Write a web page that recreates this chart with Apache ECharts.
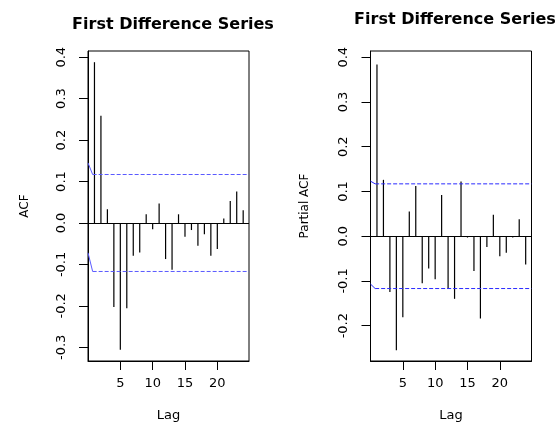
<!DOCTYPE html>
<html>
<head>
<meta charset="utf-8">
<script src="https://cdn.jsdelivr.net/npm/echarts@6/dist/echarts.min.js"></script>
<style>
  html, body { margin: 0; padding: 0; background: #fff; }
  #main { width: 555px; height: 427px; }
</style>
</head>
<body>
<div id="main"></div>
<script>
// 数据
var lags = [1, 2, 3, 4, 5, 6, 7, 8, 9, 10, 11, 12, 13, 14, 15, 16, 17, 18, 19, 20, 21, 22, 23, 24];
var acfValues = [0.388, 0.259, 0.033, -0.203, -0.306, -0.206, -0.079, -0.071, 0.021, -0.015, 0.047, -0.087,
                 -0.113, 0.021, -0.033, -0.017, -0.055, -0.027, -0.079, -0.063, 0.011, 0.053, 0.076, 0.031];
var pacfValues = [0.384, 0.126, -0.125, -0.255, -0.181, 0.055, 0.112, -0.105, -0.072, -0.096, 0.092, -0.118,
                  -0.140, 0.122, -0.003, -0.078, -0.184, -0.024, 0.048, -0.045, -0.037, -0.003, 0.038, -0.063];
var ciBound = 0.117;
var acfCiStart = [0.145, -0.072];     // 置信线左端斜线起点
var pacfCiStart = [0.123, -0.107];
var ciBendLag = 0.72;
var lagRange = [0, 24.9];
var acfRange = [-0.333, 0.415];
var pacfRange = [-0.279, 0.414];
var xTicks = [5, 10, 15, 20];
var acfTicks = [-0.3, -0.2, -0.1, 0, 0.1, 0.2, 0.3, 0.4];
var pacfTicks = [-0.2, -0.1, 0, 0.1, 0.2, 0.3, 0.4];

var FONT = 'DejaVu Sans';

function pairs(xs, ys) {
    return xs.map(function (x, i) { return [x, ys[i]]; });
}

function xAxisFor(idx) {
    return {
        gridIndex: idx,
        type: 'value',
        min: lagRange[0],
        max: lagRange[1],
        name: 'Lag',
        nameLocation: 'middle',
        nameGap: 48,
        nameTextStyle: { fontFamily: FONT, fontSize: 13, color: '#000' },
        axisLine: { show: true, onZero: false, lineStyle: { color: '#000', width: 1 } },
        axisTick: { show: true, customValues: xTicks, length: 9, lineStyle: { color: '#000' } },
        axisLabel: { customValues: xTicks, margin: 16, fontFamily: FONT, fontSize: 13, color: '#000' },
        splitLine: { show: false }
    };
}

function yAxisFor(idx, range, ticks, name, gap) {
    return {
        gridIndex: idx,
        type: 'value',
        min: range[0],
        max: range[1],
        name: name,
        nameLocation: 'middle',
        nameGap: gap,
        nameRotate: 90,
        nameTextStyle: { fontFamily: FONT, fontSize: 12, color: '#000' },
        axisLine: { show: true, lineStyle: { color: '#000', width: 1 } },
        axisTick: { show: true, customValues: ticks, length: 9, lineStyle: { color: '#000' } },
        axisLabel: {
            customValues: ticks,
            rotate: 90,
            margin: 20,
            fontFamily: FONT,
            fontSize: 13,
            color: '#000',
            formatter: function (v) { return v.toFixed(1); }
        },
        splitLine: { show: false }
    };
}

function seriesFor(idx, values, ciStart, color) {
    var base = { xAxisIndex: idx, yAxisIndex: idx, silent: true };
    var list = [];
    list.push(Object.assign({}, base, {
        type: 'bar',
        barWidth: 1.2,
        data: pairs(lags, values),
        itemStyle: { color: '#000' },
        markLine: {
            silent: true,
            symbol: 'none',
            label: { show: false },
            lineStyle: { color: '#000', width: 1, type: 'solid' },
            data: [{ yAxis: 0 }]
        }
    }));
    [ciBound, -ciBound].forEach(function (b, k) {
        // 斜线段
        list.push(Object.assign({}, base, {
            type: 'line',
            symbol: 'none',
            data: [[lagRange[0], ciStart[k]], [ciBendLag, b]],
            lineStyle: { color: color, width: 1, type: 'solid' }
        }));
        // 虚线
        list.push(Object.assign({}, base, {
            type: 'line',
            symbol: 'none',
            data: [[ciBendLag, b], [lagRange[1], b]],
            lineStyle: { color: color, width: 1, type: [4, 2] }
        }));
    });
    return list;
}

var myChart = echarts.init(document.getElementById('main'));
var option = {
    animation: false,
    backgroundColor: '#fff',
    title: [
        {
            text: 'First Difference Series', left: 168, top: 12, textAlign: 'center',
            textStyle: { fontFamily: FONT, fontSize: 16, fontWeight: 'bold', color: '#000' }
        },
        {
            text: 'First Difference Series', left: 450, top: 7, textAlign: 'center',
            textStyle: { fontFamily: FONT, fontSize: 16, fontWeight: 'bold', color: '#000' }
        }
    ],
    grid: [
        { left: 88, top: 51, width: 161, height: 310, show: true, borderColor: '#000', borderWidth: 1 },
        { left: 370.5, top: 51, width: 161, height: 310, show: true, borderColor: '#000', borderWidth: 1 }
    ],
    xAxis: [xAxisFor(0), xAxisFor(1)],
    yAxis: [
        yAxisFor(0, acfRange, acfTicks, 'ACF', 57),
        yAxisFor(1, pacfRange, pacfTicks, 'Partial ACF', 60)
    ],
    series: seriesFor(0, acfValues, acfCiStart, '#5a5aff')
        .concat(seriesFor(1, pacfValues, pacfCiStart, '#2a2aff'))
};
myChart.setOption(option);
</script>
</body>
</html>
